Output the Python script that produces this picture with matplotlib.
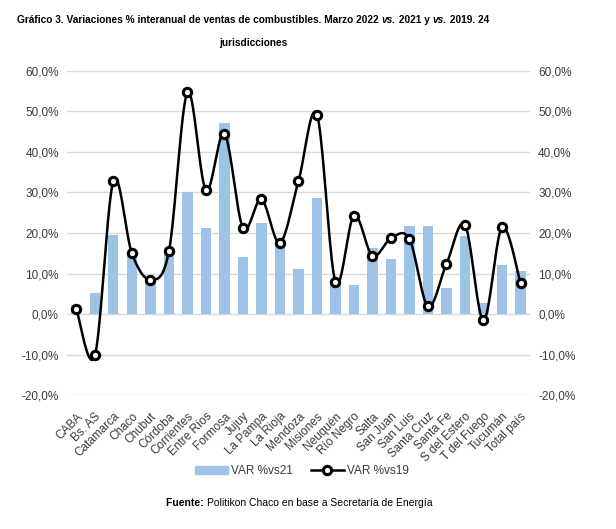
import matplotlib
matplotlib.use("Agg")
import matplotlib.pyplot as plt
from matplotlib.lines import Line2D
from matplotlib.patches import Patch
from matplotlib.ticker import FuncFormatter, MultipleLocator
import numpy as np

# ==========================================
# DATA
# ==========================================

provincias = [
    'CABA', 'Bs. AS', 'Catamarca', 'Chaco', 'Chubut', 'Córdoba',
    'Corrientes', 'Entre Ríos', 'Formosa', 'Jujuy', 'La Pampa',
    'La Rioja', 'Mendoza', 'Misiones', 'Neuquén', 'Río Negro', 'Salta',
    'San Juan', 'San Luis', 'Santa Cruz', 'Santa Fe', 'S del Estero',
    'T del Fuego', 'Tucumán', 'Total país'
]

var_vs21 = [2.3, 5.3, 19.6, 14.5, 8.4, 15.0, 30.1, 21.3, 47.2, 14.1, 22.4,
            17.0, 11.2, 28.6, 8.5, 7.3, 16.2, 13.6, 21.8, 21.8, 6.5, 19.3,
            2.7, 12.1, 10.7]

var_vs19 = [1.2, -10.2, 32.8, 15.0, 8.5, 15.5, 54.7, 30.6, 44.5, 21.3, 28.3,
            17.6, 32.8, 49.2, 8.0, 24.3, 14.4, 18.7, 18.5, 1.9, 12.4, 22.0,
            -1.5, 21.4, 7.7]

FONT = ['Liberation Sans', 'DejaVu Sans']
plt.rcParams['font.family'] = FONT

BAR_COLOR = '#9dc3e6'
TXT = '#3a3a3a'


# smooth line like Excel (Catmull-Rom through the points)
def smooth(xs, ys, n=20):
    xs = np.asarray(xs, float)
    ys = np.asarray(ys, float)
    px = np.concatenate([[xs[0]], xs, [xs[-1]]])
    py = np.concatenate([[ys[0]], ys, [ys[-1]]])
    out_x, out_y = [], []
    t = np.linspace(0, 1, n, endpoint=False)
    for i in range(1, len(px) - 2):
        for p, out in ((px, out_x), (py, out_y)):
            p0, p1, p2, p3 = p[i - 1], p[i], p[i + 1], p[i + 2]
            m1 = (p2 - p0) / 2
            m2 = (p3 - p1) / 2
            h00 = 2 * t**3 - 3 * t**2 + 1
            h10 = t**3 - 2 * t**2 + t
            h01 = -2 * t**3 + 3 * t**2
            h11 = t**3 - t**2
            out.extend(h00 * p1 + h10 * m1 + h01 * p2 + h11 * m2)
    out_x.append(xs[-1])
    out_y.append(ys[-1])
    return out_x, out_y


# ==========================================
# FIGURE
# ==========================================

fig = plt.figure(figsize=(6.16, 5.29), dpi=100)
ax = fig.add_axes([0.109, 0.253, 0.751, 0.613])

x = np.arange(len(provincias))

ax.bar(x, var_vs21, width=0.55, color=BAR_COLOR, zorder=2)

sx, sy = smooth(x, var_vs19)
ax.plot(sx, sy, color='black', lw=1.8, zorder=3)
ax.plot(x, var_vs19, ls='none', marker='o', ms=6, mfc='white',
        mec='black', mew=2.2, zorder=4)

ax.set_xlim(-0.5, len(provincias) - 0.5)
ax.set_ylim(-20, 60)
ax.yaxis.set_major_locator(MultipleLocator(10))
fmt = FuncFormatter(lambda v, p: f"{v:.1f}%".replace('.', ','))
ax.yaxis.set_major_formatter(fmt)
ax.grid(axis='y', color='#d9d9d9', lw=1, zorder=0)
ax.set_axisbelow(True)

for s in ax.spines.values():
    s.set_visible(False)

ax.set_xticks(x)
ax.set_xticklabels(provincias, rotation=45, ha='right', va='top',
                   rotation_mode='anchor', fontsize=8.5, color=TXT)
ax.tick_params(axis='x', length=0, pad=11)
ax.tick_params(axis='y', length=0, labelsize=8.5, labelcolor=TXT, pad=6)

ax2 = ax.twinx()
ax2.set_ylim(ax.get_ylim())
ax2.yaxis.set_major_locator(MultipleLocator(10))
ax2.yaxis.set_major_formatter(fmt)
ax2.tick_params(axis='y', length=0, labelsize=8.5, labelcolor=TXT, pad=6)
for s in ax2.spines.values():
    s.set_visible(False)

# legend
handles = [
    Patch(color=BAR_COLOR, label='VAR %vs21'),
    Line2D([0], [0], color='black', lw=1.8, marker='o', ms=6, mfc='white',
           mec='black', mew=2.2, label='VAR %vs19'),
]
fig.legend(handles=handles, loc='center', bbox_to_anchor=(0.49, 0.11),
           ncol=2, frameon=False, fontsize=8.5, handlelength=2.8,
           columnspacing=1.5, handletextpad=0.3, labelcolor=TXT)


# ==========================================
# TITLE AND SOURCE (mixed styles)
# ==========================================

def rich_line(pieces, y, size, center):
    renderer = fig.canvas.get_renderer()
    texts = []
    for txt, weight, style in pieces:
        t = fig.text(0, y, txt, fontsize=size, fontweight=weight,
                     fontstyle=style, va='center', ha='left', color='black')
        texts.append(t)
    widths = [t.get_window_extent(renderer).width for t in texts]
    total = sum(widths)
    left = center * fig.bbox.width - total / 2
    for t, w in zip(texts, widths):
        t.set_x(left / fig.bbox.width)
        left += w


fig.canvas.draw()
rich_line([
    ('Gráfico 3. Variaciones % interanual de ventas de combustibles. Marzo 2022 ', 'bold', 'normal'),
    ('vs.', 'bold', 'italic'),
    (' 2021 y ', 'bold', 'normal'),
    ('vs.', 'bold', 'italic'),
    (' 2019. 24', 'bold', 'normal'),
], 1 - 20 / 529, 7.3, 0.411)
rich_line([('jurisdicciones', 'bold', 'normal')], 1 - 43 / 529, 7.3, 0.411)

rich_line([
    ('Fuente: ', 'bold', 'normal'),
    ('Politikon Chaco en base a Secretaría de Energía', 'normal', 'normal'),
], 1 - 503 / 529, 7.5, 0.486)

fig.savefig('out.png', dpi=100)
